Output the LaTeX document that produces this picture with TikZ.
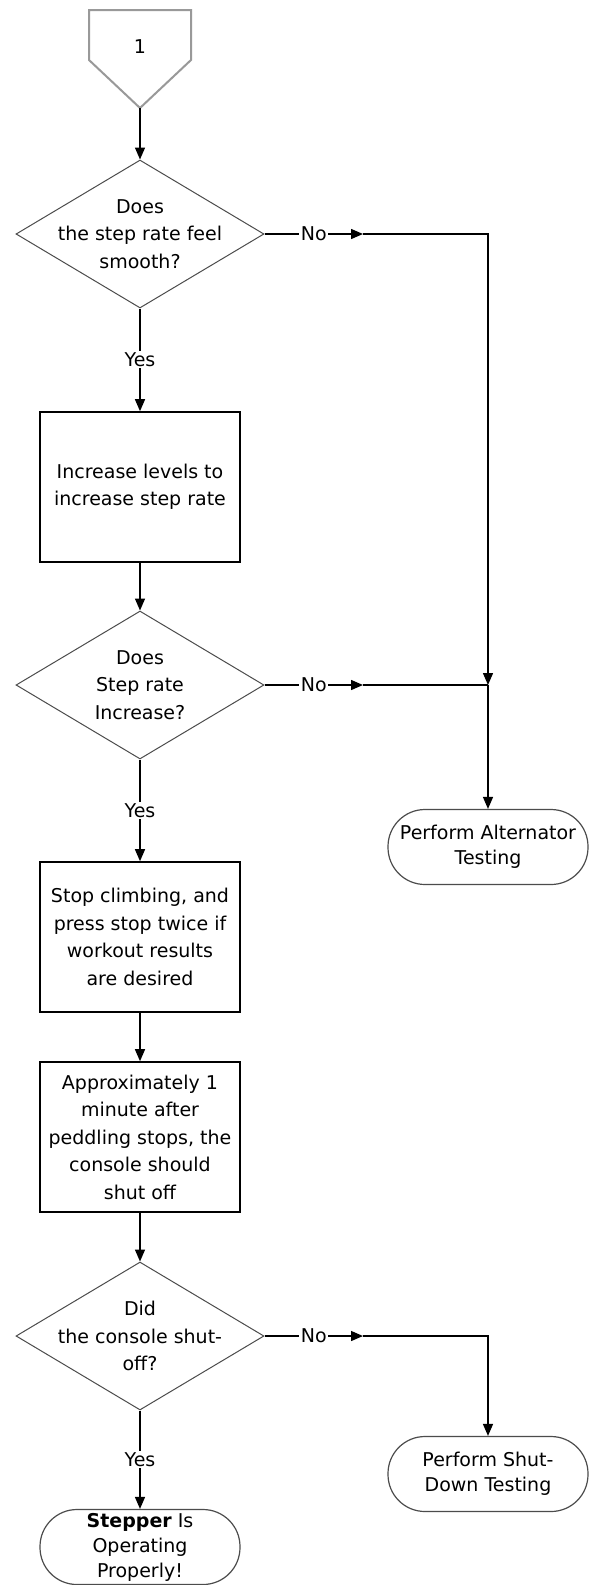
\documentclass[tikz,border=0pt]{standalone}
\usepackage{fontspec}
\setmainfont{DejaVu Sans}
\usetikzlibrary{shapes.geometric,arrows.meta}
\begin{document}
\begin{tikzpicture}[x=1pt,y=-1pt,
  conn/.style={line width=1.4pt, draw=black},
  arr/.style={conn,-{Triangle[length=12pt,width=10pt]}},
  dia/.style={diamond, draw=black!70, line width=1pt, minimum width=248pt, minimum height=148pt, inner sep=0pt},
  dtext/.style={align=center, font=\fontsize{19}{27.5}\selectfont, inner sep=0pt},
  procbox/.style={rectangle, draw=black, line width=1.6pt, minimum width=200pt, minimum height=150pt, align=center, font=\fontsize{19}{27.5}\selectfont, inner sep=0pt},
  term/.style={rectangle, rounded corners=37pt, draw=black!70, line width=1.2pt, minimum width=200pt, minimum height=75pt, align=center, font=\fontsize{19}{25}\selectfont, inner sep=0pt},
  lbl/.style={fill=white, font=\fontsize{19}{22}\selectfont, inner sep=1.5pt}
]
\useasboundingbox (0,0) rectangle (589,1585);
\fill[white] (0,0) rectangle (589,1585);

% off-page connector
\draw[draw=black!40, line width=2pt, line join=miter] (89,10) -- (191,10) -- (191,60) -- (140,108) -- (89,60) -- cycle;
\node[font=\fontsize{19}{22}\selectfont, inner sep=0pt] (p1) at (140,47) {1};
\coordinate (p1tip) at (140,108);

% shapes
\node[dia] (d1) at (140,234) {};
\node[dtext] (d1t) at (d1) {Does\\the step rate feel\\smooth?};
\node[procbox] (b1) at (140,487) {Increase levels to\\increase step rate};
\node[dia] (d2) at (140,685) {};
\node[dtext] (d2t) at (d2) {Does\\Step rate\\Increase?};
\node[term] (alt) at (488,847) {Perform Alternator\\Testing};
\node[procbox] (b2) at (140,937) {Stop climbing, and\\press stop twice if\\workout results\\are desired};
\node[procbox] (b3) at (140,1137) {Approximately 1\\minute after\\peddling stops, the\\console should\\shut off};
\node[dia] (d3) at (140,1336) {};
\node[dtext] (d3t) at (d3) {Did\\the console shut-\\off?};
\node[term] (shut) at (488,1474) {Perform Shut-\\Down Testing};
\node[term] (stp) at (140,1547) {\textbf{Stepper} Is\\Operating\\Properly!};

% main column
\draw[arr] (p1tip) -- (d1.north);
\draw[arr] (d1.south) -- node[lbl] (y1) {Yes} (b1.north);
\draw[arr] (b1.south) -- (d2.north);
\draw[arr] (d2.south) -- node[lbl] (y2) {Yes} (b2.north);
\draw[arr] (b2.south) -- (b3.north);
\draw[arr] (b3.south) -- (d3.north);
\draw[arr] (d3.south) -- node[lbl] (y3) {Yes} (stp.north);

% No branches
\coordinate (n1) at (363,234);
\coordinate (j1) at (488,234);
\coordinate (j2) at (488,685);
\coordinate (n2) at (363,685);
\coordinate (n3) at (363,1336);
\coordinate (j3) at (488,1336);
\draw[arr] (d1.east) -- node[lbl] (no1) {No} (n1);
\draw[arr] (n1) -- (j1) -- (j2);
\draw[arr] (d2.east) -- node[lbl] (no2) {No} (n2);
\draw[conn] (n2) -- (j2);
\draw[arr] (j2) -- (alt.north);
\draw[arr] (d3.east) -- node[lbl] (no3) {No} (n3);
\draw[arr] (n3) -- (j3) -- (shut.north);
\end{tikzpicture}
\end{document}
